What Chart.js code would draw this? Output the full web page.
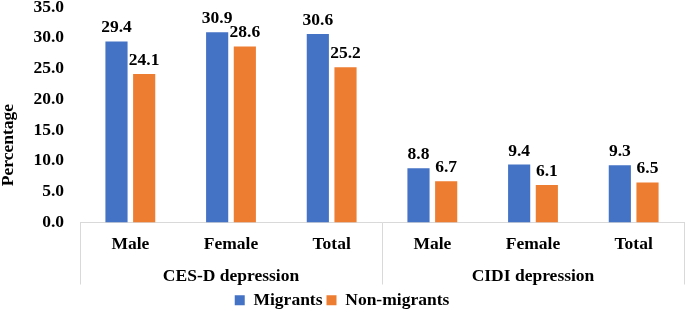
<!DOCTYPE html>
<html>
<head>
<meta charset="utf-8">
<script src="https://cdn.jsdelivr.net/npm/chart.js@4.4.0/dist/chart.umd.min.js"></script>
<style>
  html, body { margin: 0; padding: 0; background: #fff; }
  #wrap { width: 685px; height: 312px; position: relative; }
</style>
</head>
<body>
<div id="wrap"><canvas id="grafico"></canvas></div>
<script>
// dados
const categorias = ['Male', 'Female', 'Total', 'Male', 'Female', 'Total'];
const grupos = ['CES-D depression', 'CIDI depression'];
const migrantes = [29.4, 30.9, 30.6, 8.8, 9.4, 9.3];
const naoMigrantes = [24.1, 28.6, 25.2, 6.7, 6.1, 6.5];
const ticksY = [0, 5, 10, 15, 20, 25, 30, 35];

const fonte = { family: '"Liberation Serif", "Times New Roman", serif', size: 17.5, weight: 'bold' };
const fonteCss = 'bold 17.5px "Liberation Serif", "Times New Roman", serif';
const cinza = '#d9d9d9';

// rótulos de valor sobre as barras
const rotulosValores = {
  id: 'rotulosValores',
  afterDatasetsDraw(chart) {
    const ctx = chart.ctx;
    ctx.save();
    ctx.font = fonteCss;
    ctx.fillStyle = '#000';
    ctx.textAlign = 'center';
    ctx.textBaseline = 'alphabetic';
    chart.data.datasets.forEach((ds, i) => {
      chart.getDatasetMeta(i).data.forEach((bar, j) => {
        ctx.fillText(ds.data[j].toFixed(1), bar.x, bar.y - 9);
      });
    });
    ctx.restore();
  }
};

// segundo nível do eixo x + título do eixo y
const eixoAgrupado = {
  id: 'eixoAgrupado',
  afterDraw(chart) {
    const ctx = chart.ctx;
    const x = chart.scales.x;
    const area = chart.chartArea;
    const larg = (x.right - x.left) / categorias.length;
    const porGrupo = categorias.length / grupos.length;
    ctx.save();
    ctx.strokeStyle = cinza;
    ctx.lineWidth = 1;
    for (let k = 0; k <= grupos.length; k++) {
      const px = Math.round(x.left + k * porGrupo * larg) + 0.5;
      ctx.beginPath();
      ctx.moveTo(px, area.bottom);
      ctx.lineTo(px, area.bottom + 62);
      ctx.stroke();
    }
    ctx.font = fonteCss;
    ctx.fillStyle = '#000';
    ctx.textAlign = 'center';
    ctx.textBaseline = 'middle';
    grupos.forEach((g, k) => {
      ctx.fillText(g, x.left + (k + 0.5) * porGrupo * larg, area.bottom + 54);
    });
    ctx.translate(8, 145);
    ctx.rotate(-Math.PI / 2);
    ctx.fillText('Percentage', 0, 0);
    ctx.restore();
  }
};

new Chart(document.getElementById('grafico'), {
  type: 'bar',
  data: {
    labels: categorias,
    datasets: [
      { label: 'Migrants', data: migrantes, backgroundColor: '#4472C4' },
      { label: 'Non-migrants', data: naoMigrantes, backgroundColor: '#ED7D31' }
    ]
  },
  options: {
    responsive: true,
    maintainAspectRatio: false,
    animation: false,
    datasets: { bar: { categoryPercentage: 0.55, barPercentage: 0.8 } },
    layout: { padding: { top: 7, right: 1, left: 0, bottom: -7 } },
    plugins: {
      tooltip: { enabled: false },
      legend: {
        position: 'bottom',
        labels: { font: fonte, color: '#000', boxWidth: 10, boxHeight: 10, padding: 4 }
      }
    },
    scales: {
      x: {
        grid: { display: false, drawTicks: false },
        border: { display: true, color: cinza },
        ticks: { font: fonte, color: '#000', padding: 11, maxRotation: 0 },
        afterFit(s) { s.height = 65; s.paddingLeft = 0; s.paddingRight = 0; }
      },
      y: {
        min: 0,
        max: 35,
        afterBuildTicks(s) { s.ticks = ticksY.map(v => ({ value: v })); },
        grid: { display: false, drawTicks: false },
        border: { display: false },
        ticks: { font: fonte, color: '#000', padding: 16, callback: v => v.toFixed(1) },
        afterFit(s) { s.width = 80; s.paddingTop = 0; s.paddingBottom = 0; }
      }
    }
  },
  plugins: [rotulosValores, eixoAgrupado]
});
</script>
</body>
</html>
